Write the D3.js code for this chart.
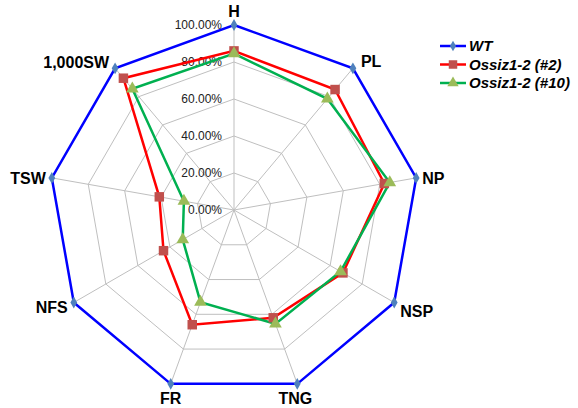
<!DOCTYPE html>
<html lang="en">
<head>
<meta charset="UTF-8">
<title>Radar</title>
<script src="https://cdn.jsdelivr.net/npm/d3@7"></script>
<style>
  body { margin: 0; background: #fff; }
  text { font-family: "Liberation Sans", Arial, sans-serif; }
</style>
</head>
<body>
<svg width="578" height="408"></svg>
<script>
// axes, clockwise from top
var axes = ["H", "PL", "NP", "NSP", "TNG", "FR", "NFS", "TSW", "1,000SW"];
var ticks = [0, 0.2, 0.4, 0.6, 0.8, 1.0];
var seriesNames = ["WT", "Ossiz1-2 (#2)", "Ossiz1-2 (#10)"];
var wt   = [1, 1, 1, 1, 1, 1, 1, 1, 1];
var ko2  = [0.86, 0.85, 0.825, 0.68, 0.62, 0.66, 0.44, 0.41, 0.93];
var ko10 = [0.845, 0.785, 0.855, 0.665, 0.655, 0.53, 0.32, 0.275, 0.855];

var series = [
  {name: seriesNames[0], values: wt,   line: "#0000ff", mark: "#4f81bd", shape: d3.symbolDiamond, size: 40},
  {name: seriesNames[1], values: ko2,  line: "#ff0000", mark: "#c0504d", shape: d3.symbolSquare,  size: 90},
  {name: seriesNames[2], values: ko10, line: "#00b050", mark: "#9bbb59", shape: d3.symbolTriangle, size: 70}
];

var svg = d3.select("svg");
var cx = 234, cy = 210, R = 185;
var r = d3.scaleLinear().domain([0, 1]).range([0, R]);
var ang = d3.scaleLinear().domain([0, axes.length]).range([0, 2 * Math.PI]);

function pt(i, v) {
  var a = ang(i);
  return [cx + r(v) * Math.sin(a), cy - r(v) * Math.cos(a)];
}

var g = svg.append("g");

// grid rings
ticks.slice(1).forEach(function (t) {
  g.append("polygon")
    .attr("points", axes.map(function (d, i) { return pt(i, t).join(","); }).join(" "))
    .attr("fill", "none")
    .attr("stroke", "#bfbfbf")
    .attr("stroke-width", 1);
});

// spokes
g.selectAll(".spoke").data(axes).enter().append("line")
  .attr("x1", cx).attr("y1", cy)
  .attr("x2", function (d, i) { return pt(i, 1)[0]; })
  .attr("y2", function (d, i) { return pt(i, 1)[1]; })
  .attr("stroke", "#bfbfbf")
  .attr("stroke-width", 1);

// tick labels
g.selectAll(".tick").data(ticks).enter().append("text")
  .attr("x", cx - 12)
  .attr("y", function (d) { return cy - r(d); })
  .attr("dy", "0.35em")
  .attr("text-anchor", "end")
  .attr("font-size", 12)
  .attr("fill", "#222")
  .text(function (d) { return (d * 100).toFixed(2) + "%"; });

// series lines
var line = d3.lineRadial()
  .angle(function (d, i) { return ang(i); })
  .radius(function (d) { return r(d); })
  .curve(d3.curveLinearClosed);

series.forEach(function (s) {
  g.append("path")
    .attr("transform", "translate(" + cx + "," + cy + ")")
    .attr("d", line(s.values))
    .attr("fill", "none")
    .attr("stroke", s.line)
    .attr("stroke-width", 2.5)
    .attr("stroke-linejoin", "miter");
});
series.forEach(function (s) {
  g.selectAll(null).data(s.values).enter().append("path")
    .attr("d", d3.symbol().type(s.shape).size(s.size))
    .attr("transform", function (d, i) {
      var p = pt(i, d);
      return "translate(" + p[0] + "," + p[1] + ")";
    })
    .attr("fill", s.mark);
});

// axis labels
var labelPos = [
  {dx: 0, dy: -8, anchor: "middle"},
  {dx: 8, dy: -1, anchor: "start"},
  {dx: 6, dy: 6, anchor: "start"},
  {dx: 6, dy: 14, anchor: "start"},
  {dx: -2, dy: 20, anchor: "middle"},
  {dx: 0, dy: 20, anchor: "middle"},
  {dx: -6, dy: 10, anchor: "end"},
  {dx: -6, dy: 6, anchor: "end"},
  {dx: -6, dy: 0, anchor: "end"}
];
g.selectAll(".axlabel").data(axes).enter().append("text")
  .attr("x", function (d, i) { return pt(i, 1)[0] + labelPos[i].dx; })
  .attr("y", function (d, i) { return pt(i, 1)[1] + labelPos[i].dy; })
  .attr("text-anchor", function (d, i) { return labelPos[i].anchor; })
  .attr("font-size", 16)
  .attr("font-weight", "bold")
  .attr("fill", "#000")
  .text(function (d) { return d; });

// legend
var lg = svg.append("g").attr("transform", "translate(440,46)");
series.forEach(function (s, i) {
  var row = lg.append("g").attr("transform", "translate(0," + i * 18.5 + ")");
  row.append("line").attr("x1", 0).attr("x2", 26).attr("y1", 0).attr("y2", 0)
    .attr("stroke", s.line).attr("stroke-width", 2.5);
  row.append("path").attr("d", d3.symbol().type(s.shape).size(s.size * 0.8))
    .attr("transform", "translate(13,0)").attr("fill", s.mark);
  row.append("text").attr("x", 29).attr("y", 0).attr("dy", "0.35em")
    .attr("font-size", 15).attr("font-weight", "bold").attr("font-style", "italic")
    .text(s.name);
});
</script>
</body>
</html>
